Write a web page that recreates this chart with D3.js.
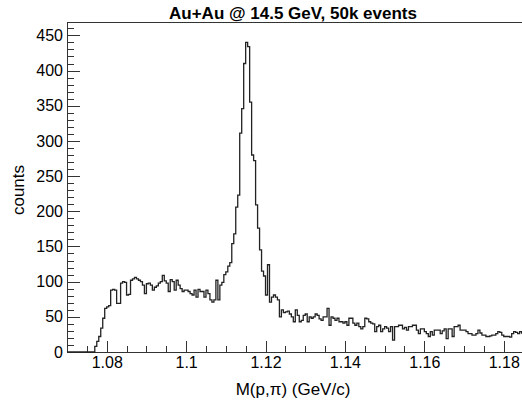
<html lang="en">
<head>
    <meta charset="utf-8">
    <style type="text/css">
        body { margin: 0; background: #fff; }
        text { font-family: "Liberation Sans", Arial, Helvetica, sans-serif; fill: #000; }
        .hist { fill: none; stroke: #222; stroke-width: 1.3px; }
        .frame { stroke: #333; stroke-width: 1px; shape-rendering: crispEdges; }
        .tick line { stroke: #333; shape-rendering: crispEdges; }
    </style>
</head>

<body>
<svg width="522" height="407"></svg>

<script src="https://d3js.org/d3.v7.min.js" type="text/javascript"></script>

<script type="text/javascript">
    // histogram: bins of 0.0005 GeV starting at 1.07
    var binStart = 1.07;
    var binWidth = 0.0005;
    var counts = [
        0, 0, 0, 0, 0, 0, 0, 0, 0, 0,
        0, 0, 0, 0, 8, 15, 22, 34, 48, 62,
        64, 66, 88, 89, 88, 69, 69, 98, 100, 99,
        81, 82, 102, 104, 106, 104, 102, 100, 95, 83,
        97, 98, 95, 88, 92, 94, 98, 100, 109, 101,
        98, 86, 103, 100, 88, 102, 95, 90, 86, 88,
        88, 86, 83, 81, 88, 78, 89, 86, 86, 78,
        88, 83, 74, 71, 74, 102, 74, 95, 99, 110,
        114, 122, 127, 154, 168, 206, 223, 311, 346, 410,
        440, 434, 355, 280, 272, 209, 176, 145, 115, 108,
        81, 124, 71, 78, 81, 78, 74, 50, 60, 56,
        57, 58, 54, 50, 43, 60, 52, 43, 45, 52,
        54, 43, 50, 48, 50, 54, 52, 47, 45, 50,
        50, 62, 38, 50, 48, 45, 48, 43, 43, 41,
        43, 38, 48, 48, 41, 38, 41, 36, 33, 36,
        48, 47, 43, 41, 40, 29, 36, 38, 29, 33,
        36, 34, 29, 36, 17, 36, 36, 38, 38, 33,
        35, 31, 36, 36, 38, 38, 31, 26, 33, 33,
        29, 26, 22, 29, 24, 31, 31, 31, 26, 30,
        33, 19, 33, 33, 22, 36, 36, 38, 31, 31,
        31, 29, 26, 26, 24, 24, 26, 31, 27, 24,
        24, 22, 22, 23, 24, 24, 26, 29, 28, 24,
        22, 22, 22, 21, 26, 29, 28, 26, 29, 27
    ];

    var xTicks = [1.08, 1.1, 1.12, 1.14, 1.16, 1.18];
    var xTickLabels = ["1.08", "1.1", "1.12", "1.14", "1.16", "1.18"];
    var yTicks = [0, 50, 100, 150, 200, 250, 300, 350, 400, 450];
    var title = "Au+Au @ 14.5 GeV, 50k events";
    var xTitle = "M(p,\u03c0) (GeV/c)";
    var yTitle = "counts";

    var svg = d3.select("svg"),
        padLeft = 67, padTop = 22, padBottom = 352, padRight = 523.6;

    var x = d3.scaleLinear().domain([1.07, 1.185]).range([padLeft, padRight]);
    var y = d3.scaleLinear().domain([0, 469]).range([padBottom, padTop]);

    // minor ticks
    var xMinor = d3.range(214, 238).map(function (i) { return i * 0.005; })
        .filter(function (v) { return !xTicks.some(function (t) { return Math.abs(t - v) < 1e-6; }); });
    var yMinor = d3.range(0, 470, 10).filter(function (v) { return v % 50 !== 0; });

    svg.append("g")
        .attr("transform", "translate(0," + padBottom + ")")
        .call(d3.axisBottom(x).tickValues(xMinor).tickSize(-6).tickFormat(""))
        .call(function (g) { g.select(".domain").remove(); });

    svg.append("g")
        .attr("transform", "translate(0," + padBottom + ")")
        .call(d3.axisBottom(x).tickValues(xTicks).tickSize(-11).tickPadding(5)
            .tickFormat(function (d, i) { return xTickLabels[i]; }))
        .call(function (g) {
            g.select(".domain").remove();
            g.selectAll("text").attr("font-size", 16).attr("font-family", null);
        });

    svg.append("g")
        .attr("transform", "translate(" + padLeft + ",0)")
        .call(d3.axisLeft(y).tickValues(yMinor).tickSize(-7).tickFormat(""))
        .call(function (g) { g.select(".domain").remove(); });

    svg.append("g")
        .attr("transform", "translate(" + padLeft + ",0)")
        .call(d3.axisLeft(y).tickValues(yTicks).tickSize(-13).tickPadding(4))
        .call(function (g) {
            g.select(".domain").remove();
            g.selectAll("text").attr("font-size", 16).attr("font-family", null);
        });

    // frame
    svg.append("path")
        .attr("class", "frame")
        .attr("fill", "none")
        .attr("d", "M" + padRight + "," + padTop + "H" + padLeft + "V" + padBottom + "H" + padRight + "Z");

    // histogram outline
    var d = "M" + x(binStart) + "," + y(counts[0]);
    counts.forEach(function (c, i) {
        d += "V" + y(c) + "H" + x(binStart + (i + 1) * binWidth);
    });
    svg.append("path").attr("class", "hist").attr("d", d);

    svg.append("text")
        .attr("x", 293).attr("y", 19)
        .attr("text-anchor", "middle")
        .attr("font-size", 17)
        .attr("font-weight", "bold")
        .text(title);

    svg.append("text")
        .attr("x", 293).attr("y", 395)
        .attr("text-anchor", "middle")
        .attr("font-size", 17)
        .text(xTitle);

    svg.append("text")
        .attr("transform", "translate(24,190) rotate(-90)")
        .attr("text-anchor", "middle")
        .attr("font-size", 17)
        .text(yTitle);
</script>

</body>
</html>
